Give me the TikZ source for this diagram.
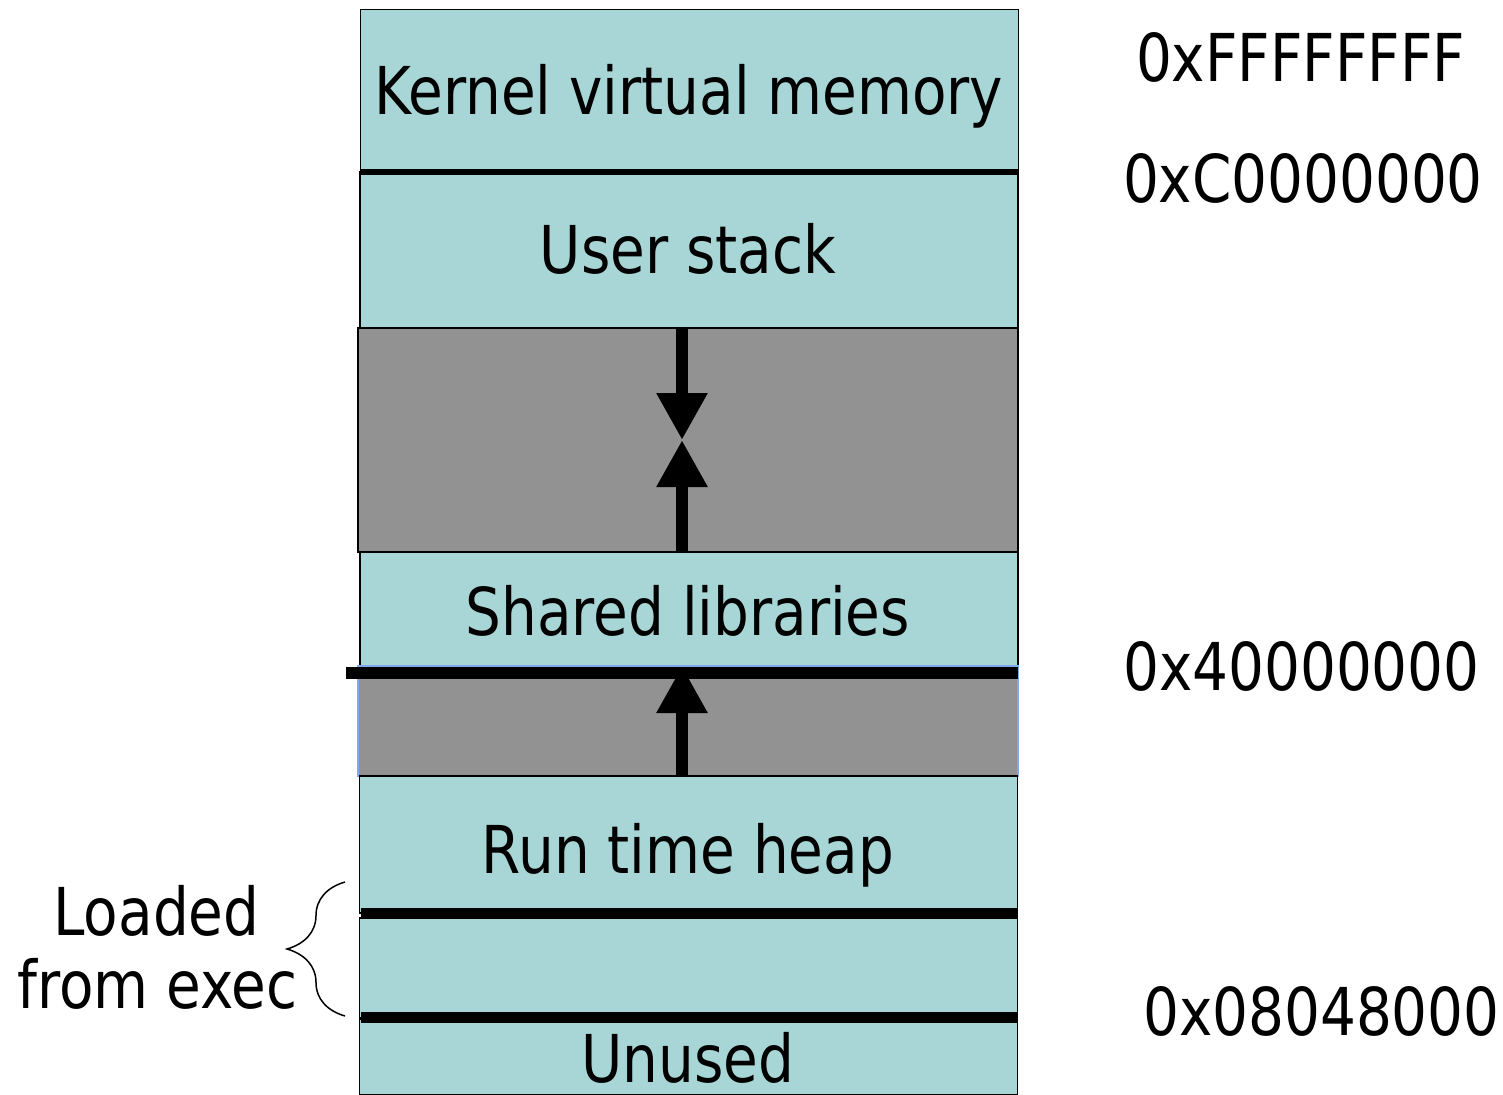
\documentclass[tikz,border=0pt]{standalone}
\usepackage{fontspec}
\setmainfont[FakeStretch=0.95]{DejaVu Sans Condensed}
\usetikzlibrary{arrows.meta,decorations.pathreplacing}
\definecolor{segteal}{HTML}{A8D6D6}
\definecolor{gapgray}{HTML}{929292}
\definecolor{edgeblue}{HTML}{80A8F0}
\tikzset{
  segbox/.style={draw=black, line width=1.5pt, fill=segteal, inner sep=0pt, minimum width=658pt},
  gapbox/.style={draw=black, line width=1.5pt, fill=gapgray, inner sep=0pt, minimum width=660pt},
  sepbar/.style={line width=#1, line cap=butt},
  growarrow/.style={line width=12pt, -{Triangle[width=48pt,length=47pt]}},
  txt/.style={font=\fontsize{66}{70}\selectfont, inner sep=0pt, anchor=base},
}
\begin{document}
\begin{tikzpicture}[x=1pt,y=-1pt]
\useasboundingbox[fill=white] (0,0) rectangle (1503,1094);
% segments
\node[segbox, minimum height=161pt] (kernel) at (689.5,90) {};
\node[segbox, minimum height=156pt] (stack) at (689,250) {};
\node[gapbox, minimum height=224pt] (gap1) at (688,440) {};
\node[segbox, minimum height=114pt] (shlib) at (689,609) {};
\node[gapbox, draw=edgeblue, minimum height=110pt] (gap2) at (688,721) {};
\node[segbox, minimum height=137pt] (heap) at (688.5,844.5) {};
\node[segbox, minimum height=100pt] (exec) at (688.5,968) {};
\node[segbox, minimum height=76pt] (unused) at (688.5,1057) {};
% segment labels
\node[txt] (kernellbl) at (689,115) {Kernel virtual memory};
\node[txt] (stacklbl) at (688,273) {User stack};
\node[txt] (shliblbl) at (688,635) {Shared libraries};
\node[txt] (heaplbl) at (688,873) {Run time heap};
\node[txt] (unusedlbl) at (688,1082) {Unused};
% separators
\draw[sepbar=6pt] (361,172) -- (1018,172);
\draw[sepbar=12pt] (346,673) -- (1018,673);
\draw[sepbar=11pt] (361,913) -- (1018,913);
\draw[sepbar=11pt] (361,1017) -- (1018,1017);
% growth arrows
\coordinate (meet) at (682,440);
\coordinate (libtop) at (682,666);
\draw[growarrow] (682,328) -- (meet);
\draw[growarrow] (682,552) -- (meet);
\draw[growarrow] (682,776) -- (libtop);
% brace
\coordinate (bb) at (345,1016);
\coordinate (bt) at (345,882);
\draw[line width=1.5pt, decorate, decoration={brace, amplitude=58pt}] (bb) -- (bt);
\node[txt] (loaded) at (156.5,935) {Loaded};
\node[txt] (fromexec) at (157.5,1008) {from exec};
% addresses
\node[txt] (aF) at (1300.5,82) {0xFFFFFFFF};
\node[txt] (aC) at (1303,202) {0xC0000000};
\node[txt] (a4) at (1301.5,690) {0x40000000};
\node[txt] (a0) at (1321.5,1035) {0x08048000};
\end{tikzpicture}
\end{document}
